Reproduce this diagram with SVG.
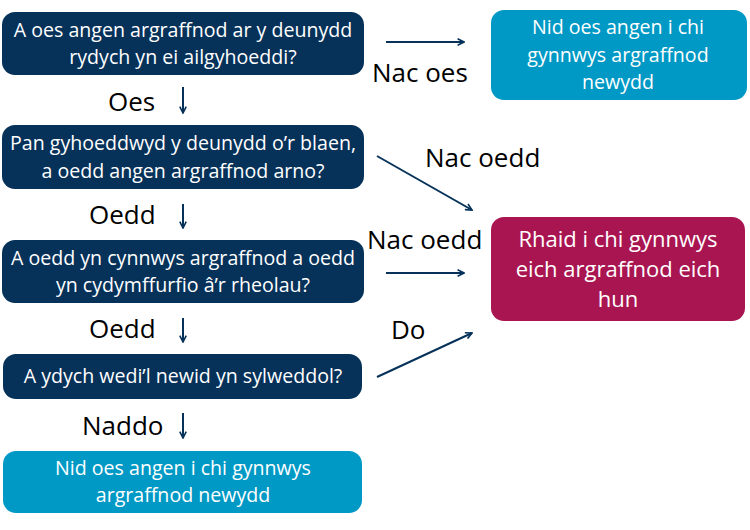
<svg xmlns="http://www.w3.org/2000/svg" width="750" height="530" viewBox="0 0 750 530">
<defs>
<style>
.navy{fill:#063159}
.cyan{fill:#0099c5}
.mag{fill:#a91551}
.bt{font-family:"Open Sans","Noto Sans",sans-serif;font-size:19.6px;fill:#ffffff;text-anchor:middle}
.bt3{font-family:"Open Sans","Noto Sans",sans-serif;font-size:22px;fill:#ffffff;text-anchor:middle}
.lab{font-family:"Open Sans","Noto Sans",sans-serif;font-size:26px;fill:#000000}
.conn{stroke:#063159;stroke-width:2;fill:none;marker-end:url(#ah)}
</style>
<marker id="ah" viewBox="0 0 10 10" refX="9" refY="5" markerWidth="4" markerHeight="4" orient="auto" markerUnits="strokeWidth">
<path d="M1,1 L9,5 L1,9" fill="none" stroke="#063159" stroke-width="2"/>
</marker>
</defs>
<g id="q1"><rect class="navy" x="2" y="12" width="362" height="63" rx="13"/>
<text class="bt" x="183" y="37">A oes angen argraffnod ar y deunydd</text>
<text class="bt" x="183" y="64">rydych yn ei ailgyhoeddi?</text></g>
<g id="q2"><rect class="navy" x="2" y="125" width="362" height="64" rx="13"/>
<text class="bt" x="183" y="150">Pan gyhoeddwyd y deunydd o’r blaen,</text>
<text class="bt" x="183" y="178">a oedd angen argraffnod arno?</text></g>
<g id="q3"><rect class="navy" x="2" y="240" width="362" height="63" rx="13"/>
<text class="bt" x="183" y="265">A oedd yn cynnwys argraffnod a oedd</text>
<text class="bt" x="183" y="292">yn cydymffurfio â’r rheolau?</text></g>
<g id="q4"><rect class="navy" x="3" y="354" width="359" height="45" rx="13"/>
<text class="bt" x="183" y="383">A ydych wedi’l newid yn sylweddol?</text></g>
<g id="r1"><rect class="cyan" x="3" y="451" width="359" height="62" rx="13"/>
<text class="bt" x="183" y="475">Nid oes angen i chi gynnwys</text>
<text class="bt" x="183" y="502">argraffnod newydd</text></g>
<g id="r2"><rect class="cyan" x="491" y="10" width="256" height="90" rx="13"/>
<text class="bt" x="618" y="34">Nid oes angen i chi</text>
<text class="bt" x="618" y="62">gynnwys argraffnod</text>
<text class="bt" x="618" y="89">newydd</text></g>
<g id="r3"><rect class="mag" x="491" y="217" width="254" height="104" rx="13"/>
<text class="bt3" x="618" y="247">Rhaid i chi gynnwys</text>
<text class="bt3" x="618" y="277">eich argraffnod eich</text>
<text class="bt3" x="618" y="307">hun</text></g>
<g id="connectors">
<line class="conn" x1="183" y1="87" x2="183" y2="113"/>
<line class="conn" x1="183" y1="204" x2="183" y2="228"/>
<line class="conn" x1="183" y1="318" x2="183" y2="342"/>
<line class="conn" x1="183" y1="413" x2="183" y2="438"/>
<line class="conn" x1="386" y1="42" x2="464" y2="42"/>
<line class="conn" x1="377" y1="156" x2="472" y2="210"/>
<line class="conn" x1="386" y1="273" x2="464" y2="273"/>
<line class="conn" x1="377" y1="377" x2="472" y2="333"/>
</g>
<g id="labels">
<text class="lab" x="108" y="111">Oes</text>
<text class="lab" x="89" y="224">Oedd</text>
<text class="lab" x="89" y="338">Oedd</text>
<text class="lab" x="82" y="435">Naddo</text>
<text class="lab" x="372" y="82">Nac oes</text>
<text class="lab" x="425" y="167">Nac oedd</text>
<text class="lab" x="367" y="249">Nac oedd</text>
<text class="lab" x="391" y="339">Do</text>
</g>
</svg>
